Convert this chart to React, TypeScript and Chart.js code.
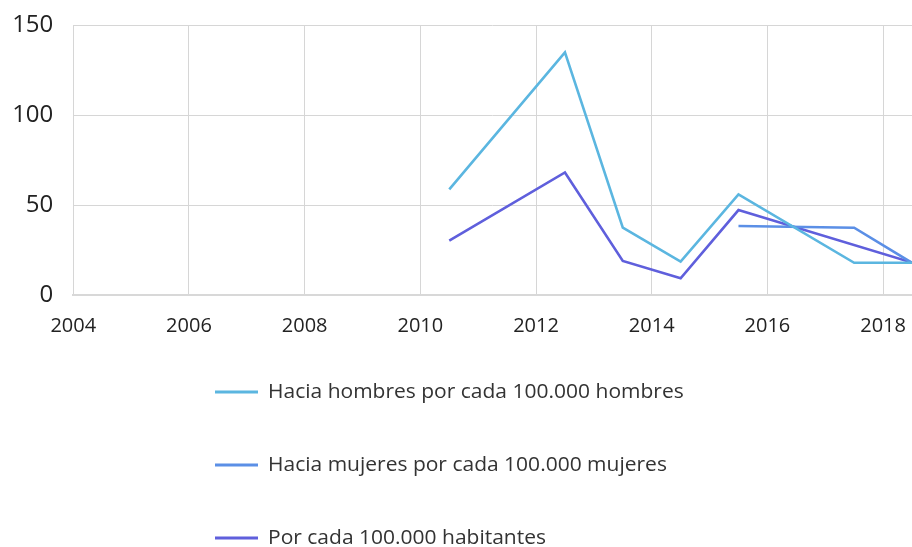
import React, { useEffect, useRef } from "react";
import { Chart, registerables } from "chart.js";

Chart.register(...registerables);

const seriesNames = [
  "Hacia hombres por cada 100.000 hombres",
  "Hacia mujeres por cada 100.000 mujeres",
  "Por cada 100.000 habitantes",
];
const seriesColors = ["#5bb6e0", "#5b8fe6", "#5f5fdc"];

const hombresYears = [2010.5, 2012.5, 2013.5, 2014.5, 2015.5, 2017.5, 2018.5];
const hombresValues = [58.7, 134.8, 37.4, 18.5, 55.9, 17.9, 17.9];

const mujeresYears = [2015.5, 2017.5, 2018.5];
const mujeresValues = [38.3, 37.4, 17.9];

const habitantesYears = [2010.5, 2012.5, 2013.5, 2014.5, 2015.5, 2018.5];
const habitantesValues = [30.2, 68.1, 18.9, 9.3, 47.2, 18.0];

const xMin = 2004;
const xMax = 2018.5;
const xTickYears = [2004, 2006, 2008, 2010, 2012, 2014, 2016, 2018];
const yTicks = [0, 50, 100, 150];

const toPoints = (xs: number[], ys: number[]) => xs.map((x, i) => ({ x, y: ys[i] }));

const FONT = "'Open Sans', 'Noto Sans', sans-serif";

const legendPlugin = {
  id: "verticalLegend",
  afterDraw(chart: any) {
    const ctx = chart.ctx;
    chart.data.datasets.forEach((ds: any, i: number) => {
      const y = 392 + i * 73;
      ctx.save();
      ctx.strokeStyle = ds.borderColor;
      ctx.lineWidth = 3;
      ctx.beginPath();
      ctx.moveTo(215, y);
      ctx.lineTo(258, y);
      ctx.stroke();
      ctx.translate(268, y);
      ctx.scale(1.05, 1);
      ctx.fillStyle = "#333333";
      ctx.font = `20px ${FONT}`;
      ctx.textBaseline = "middle";
      ctx.textAlign = "left";
      ctx.fillText(ds.label, 0, 0);
      ctx.restore();
    });
  },
};

export default function App() {
  const canvasRef = useRef<HTMLCanvasElement | null>(null);

  useEffect(() => {
    document.body.style.margin = "0";
    const canvas = canvasRef.current;
    if (!canvas) return;
    const datasets = [
      toPoints(hombresYears, hombresValues),
      toPoints(mujeresYears, mujeresValues),
      toPoints(habitantesYears, habitantesValues),
    ].map((data, i) => ({
      label: seriesNames[i],
      data,
      borderColor: seriesColors[i],
      backgroundColor: seriesColors[i],
      borderWidth: 2.6,
      pointRadius: 0,
      pointHoverRadius: 0,
      tension: 0,
      fill: false,
    }));

    const chart = new Chart(canvas, {
      type: "line",
      data: { datasets },
      plugins: [legendPlugin],
      options: {
        animation: false,
        responsive: true,
        maintainAspectRatio: false,
        layout: { padding: { top: 25, right: 0, bottom: 212, left: 0 } },
        plugins: {
          legend: { display: false },
          tooltip: { enabled: false },
        },
        scales: {
          x: {
            type: "linear",
            min: xMin,
            max: xMax,
            afterBuildTicks: (scale: any) => {
              scale.ticks = xTickYears.map((v) => ({ value: v }));
            },
            afterFit: (scale: any) => {
              scale.height = 40;
              scale.paddingLeft = 0;
              scale.paddingRight = 0;
            },
            ticks: {
              autoSkip: false,
              maxRotation: 0,
              padding: 19,
              color: "#222222",
              font: { family: FONT, size: 20 },
              callback: (v: any) => String(v),
            },
            grid: { color: "#d6d6d6", lineWidth: 1, drawTicks: false },
            border: { display: true, color: "#d8d8d8", width: 2 },
          },
          y: {
            type: "linear",
            min: 0,
            max: 150,
            afterBuildTicks: (scale: any) => {
              scale.ticks = yTicks.map((v) => ({ value: v }));
            },
            afterFit: (scale: any) => {
              scale.width = 73.3;
              scale.paddingTop = 0;
              scale.paddingBottom = 0;
            },
            ticks: {
              padding: 20,
              color: "#222222",
              font: { family: FONT, size: 24 },
            },
            grid: { color: "#d6d6d6", lineWidth: 1, drawTicks: false },
            border: { display: false },
          },
        },
      },
    });
    return () => chart.destroy();
  }, []);

  return (
    <div style={{ position: "absolute", left: 0, top: 0, width: 912, height: 547 }}>
      <canvas ref={canvasRef} />
    </div>
  );
}
